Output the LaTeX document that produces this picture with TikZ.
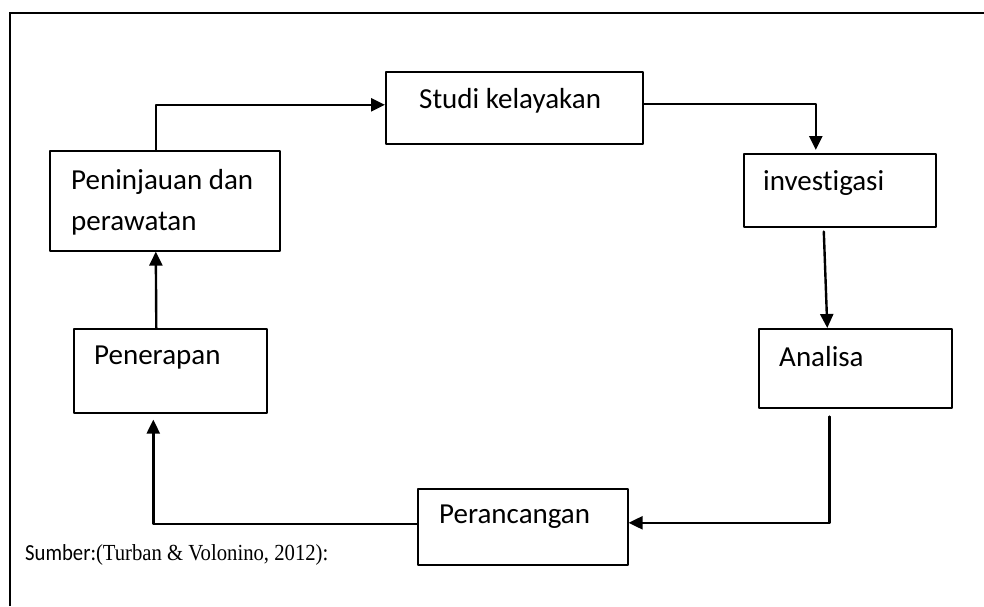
\documentclass[tikz,border=0pt]{standalone}
\usepackage{fontspec}
\setmainfont{Carlito}[Ligatures=NoCommon]
\newfontfamily\timesfont{Liberation Serif}
\usetikzlibrary{arrows.meta}
\begin{document}
\begin{tikzpicture}[x=1pt, y=-1pt, line join=round, line cap=round,
		box/.style={draw, line width=1.6pt, rectangle, anchor=north west, inner sep=0pt},
		txt/.style={anchor=west, inner sep=0pt, font=\fontsize{29}{41}\selectfont, align=left},
		arr/.style={line width=2.4pt, -{Triangle[length=14pt, width=13pt]}}]
	\useasboundingbox (0,0) rectangle (984,606);
	\draw[line width=1.4pt, line cap=butt, line join=miter] (10,606)--(10,13)--(984,13); % bingkai
	% kotak
	\node[box, minimum width=257pt, minimum height=72pt] (studi) at (385,71) {};
	\node[txt] (tstudi) at (419,101) {Studi kelayakan};
	\node[box, minimum width=192pt, minimum height=73pt] (invest) at (743,153) {};
	\node[txt] (tinvest) at (763,183) {investigasi};
	\node[box, minimum width=193pt, minimum height=79pt] (analisa) at (758,328) {};
	\node[txt] (tanalisa) at (779,357) {Analisa};
	\node[box, minimum width=210pt, minimum height=76pt] (peran) at (417,488) {};
	\node[txt] (tperan) at (439,517) {Perancangan};
	\node[box, minimum width=193pt, minimum height=84pt] (pener) at (73,328) {};
	\node[txt] (tpener) at (94,358) {Penerapan};
	\node[box, minimum width=230pt, minimum height=100pt] (penin) at (49,150) {};
	\node[txt] (tpenin) at (71,202) {Peninjauan dan\\perawatan};
	% panah
	\draw[arr] ([xshift=-9pt]penin.north) |- ([yshift=3pt]studi.west);
	\draw[arr] ([yshift=4pt]studi.east) -| ([xshift=-24pt, yshift=3pt]invest.north);
	\draw[arr] ([xshift=-16pt, yshift=-4pt]invest.south) -- ([xshift=-28pt]analisa.north);
	\draw[arr] ([xshift=-26pt, yshift=-8pt]analisa.south) |- ([yshift=4pt]peran.east);
	\draw[arr] ([yshift=3pt]peran.west) -| ([xshift=-17pt, yshift=-6pt]pener.south);
	\draw[arr] ([xshift=-14pt]pener.north) -- ([xshift=-9pt]penin.south);
	\node[anchor=west, inner sep=0pt, font=\fontsize{23}{26}\selectfont] (sumber) at (25,555)
		{\scalebox{0.9}[1]{Sumber:{\timesfont(Turban \& Volonino, 2012):}}};
\end{tikzpicture}
\end{document}
